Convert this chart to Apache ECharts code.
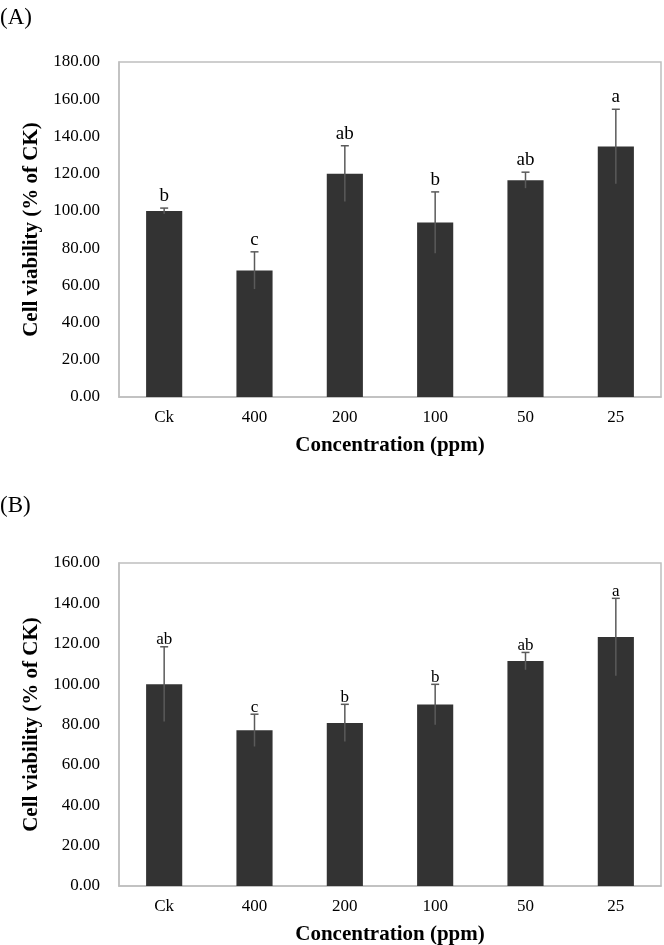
<!DOCTYPE html>
<html>
<head>
<meta charset="utf-8">
<script src="https://cdn.jsdelivr.net/npm/echarts@6/dist/echarts.min.js"></script>
<style>
  html, body { margin: 0; padding: 0; background: #fff; }
  #main { width: 664px; height: 945px; }
</style>
</head>
<body>
<div id="main"></div>
<script>
  // categories (concentration, ppm)
  var categories = ['Ck', '400', '200', '100', '50', '25'];

  // panel A
  var meanA = [100.0, 68.0, 120.0, 93.7, 116.5, 134.6];
  var errA = [1.5, 10.0, 15.0, 16.5, 4.3, 20.0];
  var lettersA = ['b', 'c', 'ab', 'b', 'ab', 'a'];

  // panel B
  var meanB = [100.0, 77.1, 80.8, 89.9, 111.4, 123.3];
  var errB = [18.5, 8.0, 9.2, 10.0, 4.3, 19.2];
  var lettersB = ['ab', 'c', 'b', 'b', 'ab', 'a'];

  var serif = "'Liberation Serif', 'Times New Roman', serif";
  var frameColor = '#bfbfbf';
  var barColor = '#333333';
  var errColor = '#5a5a5a';

  var myChart = echarts.init(document.getElementById('main'));

  function errData(mean, err) {
    return mean.map(function (v, i) { return [i, v, err[i]]; });
  }

  // error bar (symmetric, cap on top only) + significance letter
  function errRender(letters, gap, fontSize) {
    return function (params, api) {
      var i = api.value(0);
      var v = api.value(1);
      var e = api.value(2);
      var hi = api.coord([i, v + e]);
      var lo = api.coord([i, v - e]);
      var style = { stroke: errColor, lineWidth: 1.5 };
      return {
        type: 'group',
        children: [
          { type: 'line', shape: { x1: hi[0], y1: hi[1], x2: lo[0], y2: lo[1] }, style: style },
          { type: 'line', shape: { x1: hi[0] - 4, y1: hi[1], x2: hi[0] + 4, y2: hi[1] }, style: style },
          {
            type: 'text',
            x: hi[0],
            y: hi[1] - gap,
            style: {
              text: letters[params.dataIndex],
              fill: '#000',
              font: fontSize + 'px ' + serif,
              align: 'center',
              verticalAlign: 'middle'
            }
          }
        ]
      };
    };
  }

  function xAxisOf(gridIndex) {
    return {
      type: 'category',
      gridIndex: gridIndex,
      data: categories,
      axisLine: { lineStyle: { color: frameColor, width: 1.5 } },
      axisTick: { show: false },
      axisLabel: { color: '#000', fontFamily: serif, fontSize: 17, margin: 12 },
      name: 'Concentration (ppm)',
      nameLocation: 'middle',
      nameGap: 38,
      nameTextStyle: { color: '#000', fontFamily: serif, fontSize: 21, fontWeight: 'bold' }
    };
  }

  function yAxisOf(gridIndex, max) {
    return {
      type: 'value',
      gridIndex: gridIndex,
      min: 0,
      max: max,
      interval: 20,
      axisLine: { show: true, lineStyle: { color: frameColor, width: 1.5 } },
      axisTick: { show: false },
      splitLine: { show: false },
      axisLabel: {
        color: '#000', fontFamily: serif, fontSize: 17, margin: 19,
        formatter: function (v) { return v.toFixed(2); }
      },
      name: 'Cell viability (% of CK)',
      nameLocation: 'middle',
      nameGap: 66,
      nameTextStyle: { color: '#000', fontFamily: serif, fontSize: 21, fontWeight: 'bold' }
    };
  }

  var option = {
    backgroundColor: '#fff',
    animation: false,
    graphic: [
      { type: 'text', left: 0, top: 6, style: { text: '(A)', font: '23px ' + serif, fill: '#000' } },
      { type: 'text', left: 0, top: 494, style: { text: '(B)', font: '23px ' + serif, fill: '#000' } }
    ],
    grid: [
      { left: 119, top: 62, width: 542, height: 335, outerBoundsMode: 'none', show: true, borderColor: frameColor, borderWidth: 1.5, backgroundColor: '#fff' },
      { left: 119, top: 563, width: 542, height: 323, outerBoundsMode: 'none', show: true, borderColor: frameColor, borderWidth: 1.5, backgroundColor: '#fff' }
    ],
    xAxis: [xAxisOf(0), xAxisOf(1)],
    yAxis: [yAxisOf(0, 180), yAxisOf(1, 160)],
    series: [
      {
        type: 'bar', xAxisIndex: 0, yAxisIndex: 0,
        data: meanA, barWidth: '40%',
        itemStyle: { color: barColor }
      },
      {
        type: 'custom', xAxisIndex: 0, yAxisIndex: 0,
        data: errData(meanA, errA),
        renderItem: errRender(lettersA, 12, 19),
        z: 5
      },
      {
        type: 'bar', xAxisIndex: 1, yAxisIndex: 1,
        data: meanB, barWidth: '40%',
        itemStyle: { color: barColor }
      },
      {
        type: 'custom', xAxisIndex: 1, yAxisIndex: 1,
        data: errData(meanB, errB),
        renderItem: errRender(lettersB, 7, 17),
        z: 5
      }
    ]
  };

  myChart.setOption(option);
</script>
</body>
</html>
